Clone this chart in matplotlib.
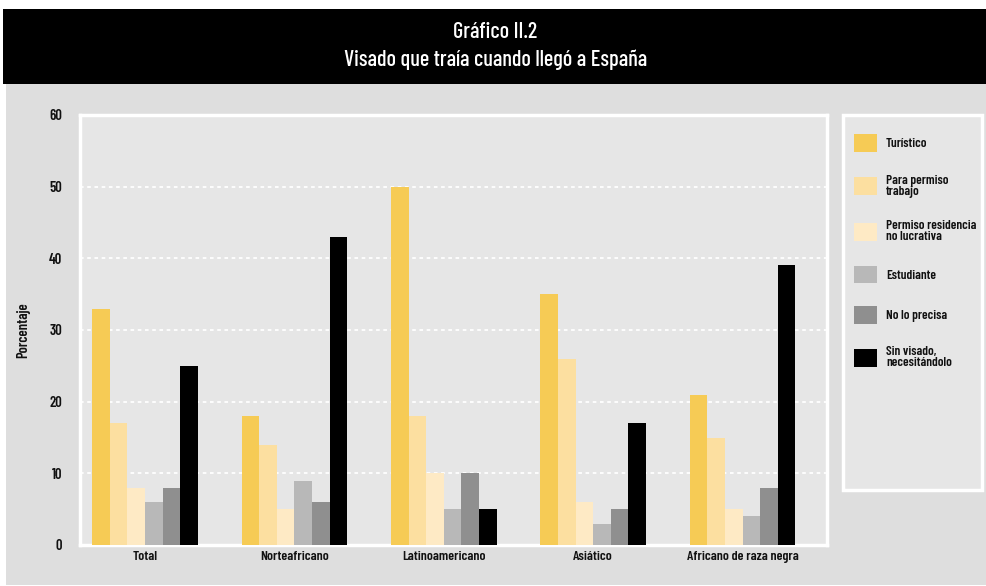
import matplotlib
matplotlib.use("Agg")
import matplotlib.pyplot as plt
from matplotlib.patches import Rectangle, Patch
import numpy as np

plt.rcParams['font.family'] = ['Barlow Condensed', 'DejaVu Sans']
plt.rcParams['font.weight'] = 600

categories = ["Total", "Norteafricano", "Latinoamericano", "Asiático", "Africano de raza negra"]
series_names = ["Turístico", "Para permiso\ntrabajo", "Permiso residencia\nno lucrativa",
                "Estudiante", "No lo precisa", "Sin visado,\nnecesitándolo"]
turistico = [33, 18, 50, 35, 21]
para_permiso_trabajo = [17, 14, 18, 26, 15]
permiso_residencia = [8, 5, 10, 6, 5]
estudiante = [6, 9, 5, 3, 4]
no_lo_precisa = [8, 6, 10, 5, 8]
sin_visado = [25, 43, 5, 17, 39]
yticks = [0, 10, 20, 30, 40, 50, 60]

series = [turistico, para_permiso_trabajo, permiso_residencia, estudiante, no_lo_precisa, sin_visado]
colors = ["#F6CB55", "#FCDFA0", "#FEEAC5", "#B8B8B8", "#8F8F8F", "#000000"]

W, H = 987, 586
fig = plt.figure(figsize=(W / 100, H / 100), dpi=100)
fig.patch.set_facecolor("white")

# gray panel and black title band
fig.patches.append(Rectangle((6 / W, 1 - 585 / H), 1 - 6 / W, (585 - 84) / H,
                             transform=fig.transFigure, facecolor="#DEDEDE", edgecolor="none", zorder=-5))
fig.patches.append(Rectangle((3 / W, 1 - 84 / H), 1 - 3 / W, (84 - 9) / H,
                             transform=fig.transFigure, facecolor="#000000", edgecolor="none", zorder=-5))
fig.text(0.5 + 2 / W, 1 - 32 / H, "Gráfico II.2", color="white", fontsize=16, fontweight=500,
         ha="center", va="center")
fig.text(0.5 + 2 / W, 1 - 60 / H, "Visado que traía cuando llegó a España", color="white",
         fontsize=16, fontweight=500, ha="center", va="center")

# legend frame
fig.patches.append(Rectangle((843 / W, 1 - 490 / H), (982 - 843) / W, (490 - 115) / H,
                             transform=fig.transFigure, facecolor="#E6E6E6", edgecolor="white",
                             linewidth=2.5, zorder=-4))

ax = fig.add_axes([80 / W, 1 - 545 / H, 747 / W, (545 - 115) / H])
ax.set_facecolor("#E6E6E6")
for s in ax.spines.values():
    s.set_color("white")
    s.set_linewidth(2.5)

x = np.arange(len(categories))
bw = 0.118
for i, (vals, c) in enumerate(zip(series, colors)):
    ax.bar(x + (i - 2.5) * bw, vals, bw, color=c, label=series_names[i], zorder=3, linewidth=0)

ax.set_xlim(-0.435, len(categories) - 0.435)
ax.set_ylim(0, 60)
ax.set_yticks(yticks)
ax.yaxis.grid(True, color="white", linestyle=(0, (2, 2)), linewidth=1.3, zorder=1)
ax.set_axisbelow(True)
ax.set_xticks(x)
ax.set_xticklabels(categories, fontsize=10, color="#111111")
ax.tick_params(axis="y", length=0, pad=13, labelsize=10.5, labelcolor="#111111")
ax.tick_params(axis="x", length=0, pad=4)
ax.set_ylabel("Porcentaje", fontsize=10.5, fontweight=600, color="#111111", labelpad=13)

handles = [Patch(facecolor=c, edgecolor="none") for c in colors]
leg = fig.legend(handles, series_names, loc="upper left", bbox_to_anchor=(849 / W, 1 - 129 / H),
                 frameon=False, fontsize=9.5, handlelength=1.7, handleheight=1.7,
                 handletextpad=0.7, labelspacing=1.7, borderaxespad=0)
for t in leg.get_texts():
    t.set_color("#111111")
    t.set_linespacing(0.9)

fig.savefig("out.png", dpi=100, facecolor=fig.get_facecolor())
